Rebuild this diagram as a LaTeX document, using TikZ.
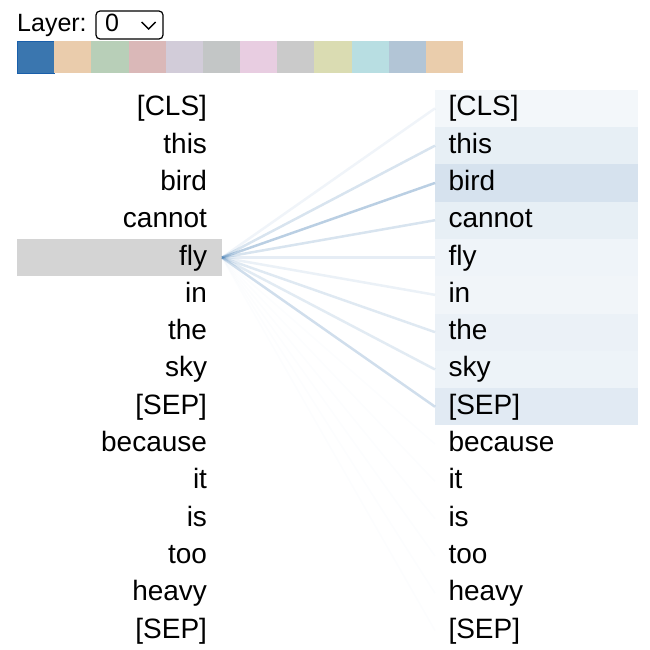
\documentclass[tikz,border=0pt]{standalone}
\usepackage{fontspec}
\setmainfont{Liberation Sans}
\usepackage{tikz}
\usetikzlibrary{positioning}
\definecolor{attn}{RGB}{58,118,175}
\definecolor{selgray}{RGB}{212,212,212}
\definecolor{swA}{RGB}{58,118,175}
\definecolor{swAedge}{RGB}{25,95,170}
\definecolor{swB}{RGB}{234,204,172}
\definecolor{swC}{RGB}{184,207,184}
\definecolor{swD}{RGB}{218,184,184}
\definecolor{swE}{RGB}{210,204,217}
\definecolor{swF}{RGB}{195,198,198}
\definecolor{swG}{RGB}{232,205,225}
\definecolor{swH}{RGB}{202,202,202}
\definecolor{swI}{RGB}{218,220,178}
\definecolor{swJ}{RGB}{184,222,226}
\definecolor{swK}{RGB}{178,197,214}
\definecolor{swL}{RGB}{234,205,172}
\newcommand{\tokfont}{\fontsize{28}{34}\selectfont}
\newcommand{\uifont}{\fontsize{25}{30}\selectfont}
\tikzset{
    tokleft/.style={rectangle, minimum height=37.3pt, text width=175pt, inner xsep=15pt, inner ysep=0pt, outer sep=0pt, align=right, text height=21pt, text depth=6pt, font=\tokfont},
    tokright/.style={rectangle, minimum height=37.3pt, text width=176pt, inner xsep=13.5pt, inner ysep=0pt, outer sep=0pt, align=left, text height=21pt, text depth=6pt, font=\tokfont},
    swatch/.style={rectangle, minimum width=37.17pt, minimum height=32pt, inner sep=0pt, outer sep=0pt},
    attnline/.style={draw=attn, line width=2.5pt}
}

\begin{document}
\begin{tikzpicture}[x=1pt, y=-1pt,
        dropbox/.style={draw, rectangle, rounded corners=4pt, line width=1.2pt, minimum width=67pt, minimum height=28pt},
        uitext/.style={inner sep=0pt, font=\uifont}
    ]
        \useasboundingbox (0,0) rectangle (650,650);

        % Layer selector
        \node (LayerLabel) [uitext, anchor=base west] at (17, 32) {Layer:};
        \node (LayerBox) [dropbox] at (129.5, 25) {};
        \node (LayerValue) [uitext, anchor=base west] at (105, 32) {0};
        \draw[line width=1.3pt] ([xshift=-22pt, yshift=3pt]LayerBox.east) -- ++(7, 7) -- ++(7, -7);

        % Head colours
        \node (S1) [swatch, fill=swA, draw=swAedge, line width=0.8pt, anchor=north west] at (17, 41) {};
        \node (S2) [swatch, fill=swB, right=0pt of S1] {};
        \node (S3) [swatch, fill=swC, right=0pt of S2] {};
        \node (S4) [swatch, fill=swD, right=0pt of S3] {};
        \node (S5) [swatch, fill=swE, right=0pt of S4] {};
        \node (S6) [swatch, fill=swF, right=0pt of S5] {};
        \node (S7) [swatch, fill=swG, right=0pt of S6] {};
        \node (S8) [swatch, fill=swH, right=0pt of S7] {};
        \node (S9) [swatch, fill=swI, right=0pt of S8] {};
        \node (S10) [swatch, fill=swJ, right=0pt of S9] {};
        \node (S11) [swatch, fill=swK, right=0pt of S10] {};
        \node (S12) [swatch, fill=swL, right=0pt of S11] {};

        % Left tokens
        \node (L1) [tokleft, anchor=north west] at (17, 89.7) {[CLS]};
        \node (L2) [tokleft, below=0pt of L1] {this};
        \node (L3) [tokleft, below=0pt of L2] {bird};
        \node (L4) [tokleft, below=0pt of L3] {cannot};
        \node (L5) [tokleft, below=0pt of L4, fill=selgray] {fly};
        \node (L6) [tokleft, below=0pt of L5] {in};
        \node (L7) [tokleft, below=0pt of L6] {the};
        \node (L8) [tokleft, below=0pt of L7] {sky};
        \node (L9) [tokleft, below=0pt of L8] {[SEP]};
        \node (L10) [tokleft, below=0pt of L9] {because};
        \node (L11) [tokleft, below=0pt of L10] {it};
        \node (L12) [tokleft, below=0pt of L11] {is};
        \node (L13) [tokleft, below=0pt of L12] {too};
        \node (L14) [tokleft, below=0pt of L13] {heavy};
        \node (L15) [tokleft, below=0pt of L14] {[SEP]};

        % Right tokens
        \node (R1) [tokright, anchor=north west, fill=attn!6] at (435, 89.7) {[CLS]};
        \node (R2) [tokright, below=0pt of R1, fill=attn!12] {this};
        \node (R3) [tokright, below=0pt of R2, fill=attn!21] {bird};
        \node (R4) [tokright, below=0pt of R3, fill=attn!12] {cannot};
        \node (R5) [tokright, below=0pt of R4, fill=attn!8] {fly};
        \node (R6) [tokright, below=0pt of R5, fill=attn!7] {in};
        \node (R7) [tokright, below=0pt of R6, fill=attn!10] {the};
        \node (R8) [tokright, below=0pt of R7, fill=attn!9] {sky};
        \node (R9) [tokright, below=0pt of R8, fill=attn!15] {[SEP]};
        \node (R10) [tokright, below=0pt of R9] {because};
        \node (R11) [tokright, below=0pt of R10] {it};
        \node (R12) [tokright, below=0pt of R11] {is};
        \node (R13) [tokright, below=0pt of R12] {too};
        \node (R14) [tokright, below=0pt of R13] {heavy};
        \node (R15) [tokright, below=0pt of R14] {[SEP]};

        % Attention from fly
        \draw[attnline, draw opacity=0.08] (L5.east) -- (R1.west);
        \draw[attnline, draw opacity=0.2] (L5.east) -- (R2.west);
        \draw[attnline, draw opacity=0.35] (L5.east) -- (R3.west);
        \draw[attnline, draw opacity=0.2] (L5.east) -- (R4.west);
        \draw[attnline, draw opacity=0.13] (L5.east) -- (R5.west);
        \draw[attnline, draw opacity=0.1] (L5.east) -- (R6.west);
        \draw[attnline, draw opacity=0.16] (L5.east) -- (R7.west);
        \draw[attnline, draw opacity=0.15] (L5.east) -- (R8.west);
        \draw[attnline, draw opacity=0.24] (L5.east) -- (R9.west);
        \draw[attnline, line width=1.5pt, draw opacity=0.015] (L5.east) -- (R10.west);
        \draw[attnline, line width=1.5pt, draw opacity=0.015] (L5.east) -- (R11.west);
        \draw[attnline, line width=1.5pt, draw opacity=0.015] (L5.east) -- (R12.west);
        \draw[attnline, line width=1.5pt, draw opacity=0.015] (L5.east) -- (R13.west);
        \draw[attnline, line width=1.5pt, draw opacity=0.015] (L5.east) -- (R14.west);
        \draw[attnline, line width=1.5pt, draw opacity=0.015] (L5.east) -- (R15.west);

    \end{tikzpicture}
\end{document}
